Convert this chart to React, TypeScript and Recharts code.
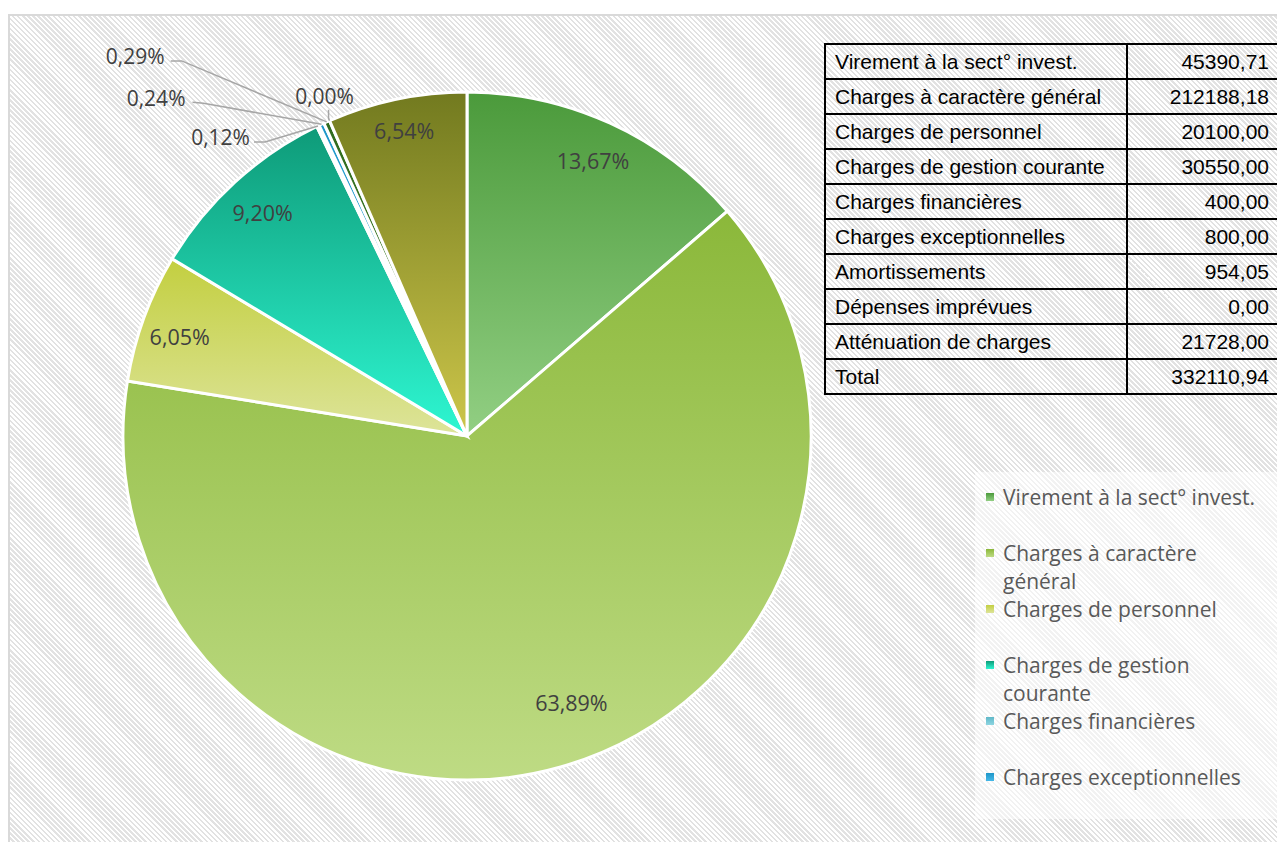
import { PieChart, Pie, Cell, Legend } from "recharts"

const categories = [
    "Virement à la sect° invest.",
    "Charges à caractère général",
    "Charges de personnel",
    "Charges de gestion courante",
    "Charges financières",
    "Charges exceptionnelles",
    "Amortissements",
    "Dépenses imprévues",
    "Atténuation de charges",
]
const amounts = [45390.71, 212188.18, 20100, 30550, 400, 800, 954.05, 0, 21728]

const topColors = ["#4b9a3b", "#8bb83a", "#c3cf40", "#0e9a78", "#5fb8c8", "#1e96c8", "#2f6a1e", "#3a5a1a", "#727a1f"]
const bottomColors = ["#92cf83", "#bedb84", "#dde49a", "#2ef7d2", "#8fd6e2", "#45b8e8", "#4a8a30", "#5a7a2a", "#cdc64a"]

// the legend box is too short for all entries, only the first ones show
const legendShown = 6

const fmt = (v: number) => v.toFixed(2).replace(".", ",")
const total = amounts.reduce((a, b) => a + b, 0)

const data = categories.map((name, i) => ({ name, value: amounts[i] }))

const RAD = Math.PI / 180
const LABEL_FONT = "'Open Sans', sans-serif"

// leader lines of the tiny slices, relative to the slice's outer point
const outside: any = {
    4: { elbow: [-53, 16], end: [-64, 16], text: [-68, 11], anchor: "end" },
    5: { elbow: [-118, -21], end: [-129, -22], text: [-136, -26], anchor: "end" },
    6: { elbow: [-145, -61], end: [-156, -61], text: [-162, -66], anchor: "end" },
    7: { elbow: [-1, -2], end: [-1, -11], text: [-5, -25], anchor: "middle" },
}
// small nudges of inside labels (best-fit placement)
const nudge: any = { 1: [22, -25], 8: [-1, -9], 2: [-3, 5] }

const renderLabel = (props: any) => {
    const { cx, cy, midAngle, outerRadius, percent, index } = props
    const txt = fmt(percent * 100) + "%"
    const cos = Math.cos(-midAngle * RAD)
    const sin = Math.sin(-midAngle * RAD)
    const o = outside[index]
    if (o) {
        const ox = cx + outerRadius * cos
        const oy = cy + outerRadius * sin
        const pts = `${ox},${oy} ${ox + o.elbow[0]},${oy + o.elbow[1]} ${ox + o.end[0]},${oy + o.end[1]}`
        return (
            <g key={"l" + index}>
                <polyline points={pts} fill="none" stroke="#a6a6a6" strokeWidth={1.5} />
                <text x={ox + o.text[0]} y={oy + o.text[1]} textAnchor={o.anchor} dominantBaseline="central"
                    fill="#404040" fontSize={21} fontFamily={LABEL_FONT}>{txt}</text>
            </g>
        )
    }
    const r = outerRadius * 0.88
    const n = nudge[index] || [0, 0]
    return (
        <text key={"l" + index} x={cx + r * cos + n[0]} y={cy + r * sin + n[1]} textAnchor="middle"
            dominantBaseline="central" fill="#404040" fontSize={21.5} fontFamily={LABEL_FONT}>{txt}</text>
    )
}

const renderLegend = () => (
    <div style={{ fontFamily: LABEL_FONT, fontSize: 21, color: "#595959", width: 290 }}>
        {categories.slice(0, legendShown).map((c, i) => (
            <div key={c} style={{ position: "relative", height: 56, paddingLeft: 28, lineHeight: "28px" }}>
                <span style={{
                    position: "absolute", left: 11, top: 10, width: 8, height: 8,
                    background: `linear-gradient(${topColors[i]}, ${bottomColors[i]})`
                }} />
                {c}
            </div>
        ))}
    </div>
)

const cell: any = { border: "2px solid #000", height: 33, padding: "0 9px", whiteSpace: "nowrap", boxSizing: "border-box" }
const numCell: any = { ...cell, textAlign: "right", paddingRight: 11 }

export default function App() {
    return (
        <div style={{
            position: "relative", marginTop: 6, width: 1277, height: 828, boxSizing: "border-box",
            borderTop: "2px solid #d9d9d9", borderLeft: "2px solid #d9d9d9", overflow: "hidden",
            background: "repeating-linear-gradient(45deg, #ffffff 0px, #ffffff 1.8px, #e2e2e2 1.8px, #e2e2e2 3.6px)"
        }}>
            <style>{"html,body{overflow:hidden}"}</style>
            <div style={{ position: "absolute", left: 0, top: 0 }}>
                <PieChart width={1275} height={826} margin={{ top: 0, right: 0, bottom: 0, left: 0 }}>
                    <defs>
                        {categories.map((c, i) => (
                            <linearGradient key={c} id={"g" + i} x1="0" y1="0" x2="0" y2="1">
                                <stop offset="0%" stopColor={topColors[i]} />
                                <stop offset="100%" stopColor={bottomColors[i]} />
                            </linearGradient>
                        ))}
                    </defs>
                    <Pie data={data} dataKey="value" nameKey="name" cx={457} cy={420} outerRadius={344}
                        startAngle={90} endAngle={-270} stroke="#ffffff" strokeWidth={3}
                        label={renderLabel} labelLine={false} isAnimationActive={false}>
                        {data.map((d, i) => <Cell key={d.name} fill={`url(#g${i})`} />)}
                    </Pie>
                    <Legend layout="vertical" align="right" verticalAlign="middle" content={renderLegend}
                        wrapperStyle={{
                            left: 965, top: 456, width: 310, height: 347, overflow: "hidden",
                            background: "rgba(255,255,255,0.55)", paddingTop: 11, boxSizing: "border-box"
                        }} />
                </PieChart>
            </div>
            <table style={{
                position: "absolute", left: 814, top: 27, width: 456, borderCollapse: "collapse", tableLayout: "fixed",
                fontFamily: "'Liberation Sans', Arial, sans-serif", fontSize: 21, color: "#000"
            }}>
                <colgroup>
                    <col style={{ width: 302 }} />
                    <col style={{ width: 154 }} />
                </colgroup>
                <tbody>
                    {categories.map((c, i) => (
                        <tr key={c} style={{ height: 35 }}>
                            <td style={cell}>{c}</td>
                            <td style={numCell}>{fmt(amounts[i])}</td>
                        </tr>
                    ))}
                    <tr style={{ height: 35 }}>
                        <td style={cell}>Total</td>
                        <td style={numCell}>{fmt(total)}</td>
                    </tr>
                </tbody>
            </table>
        </div>
    )
}
